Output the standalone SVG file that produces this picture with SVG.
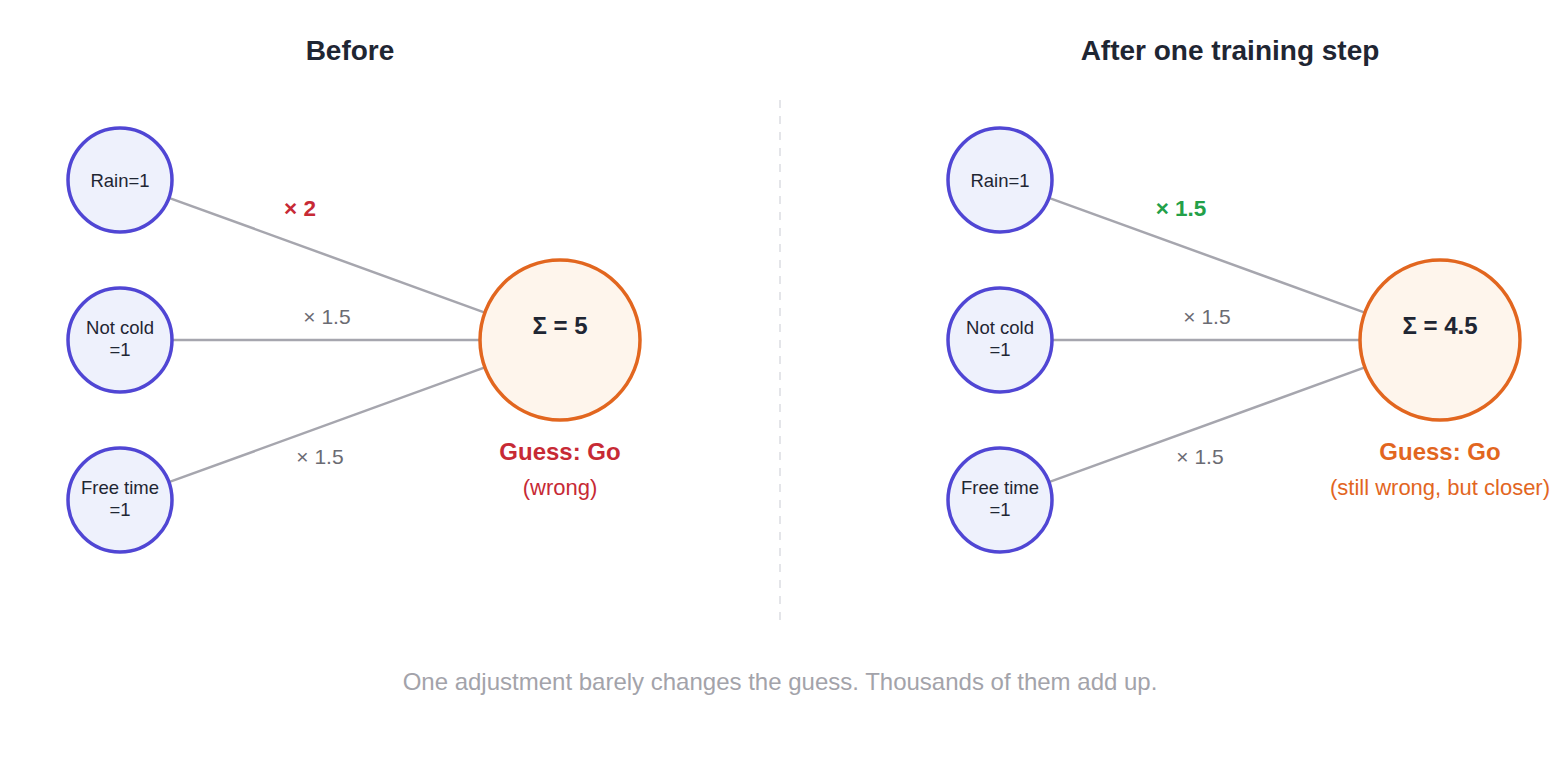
<svg xmlns="http://www.w3.org/2000/svg" width="1560" height="760" viewBox="0 0 1560 760">
<style>
text{font-family:"Liberation Sans",Arial,Helvetica,sans-serif;text-anchor:middle}
.title{font-size:28px;font-weight:bold;fill:#1f2633}
.in circle{fill:#eef1fc;stroke:#5046d4;stroke-width:3.5}
.in text{font-size:18.5px;fill:#1f2633}
.out circle{fill:#fef5ec;stroke:#e2661f;stroke-width:3.5}
.sum{font-size:24px;font-weight:bold;fill:#1f2633}
.edge{stroke:#a6a6ae;stroke-width:2.5;fill:none}
.w{font-size:21px;fill:#6b6b73}
.wb{font-size:22.5px;font-weight:bold}
.red{fill:#c72a35}
.green{fill:#23a048}
.orange{fill:#e2661f}
.guess{font-size:24px;font-weight:bold}
.sub{font-size:22px}
.cap{font-size:24px;fill:#a3a3aa}
</style>
<rect width="1560" height="760" fill="#ffffff"/>
<text class="title" x="350" y="60">Before</text>
<text class="title" x="1230" y="60">After one training step</text>
<line x1="780" y1="100" x2="780" y2="620" stroke="#e4e5e9" stroke-width="2" stroke-dasharray="8 8"/>
<g id="connectors">
<line class="edge" x1="168.9" y1="197.8" x2="484.8" y2="312.6"/>
<line class="edge" x1="172" y1="340" x2="480" y2="340"/>
<line class="edge" x1="168.9" y1="482.2" x2="484.8" y2="367.4"/>
<line class="edge" x1="1048.9" y1="197.8" x2="1364.8" y2="312.6"/>
<line class="edge" x1="1052" y1="340" x2="1360" y2="340"/>
<line class="edge" x1="1048.9" y1="482.2" x2="1364.8" y2="367.4"/>
<text class="wb red" x="300" y="216">× 2</text>
<text class="w" x="327" y="324">× 1.5</text>
<text class="w" x="320" y="464">× 1.5</text>
<text class="wb green" x="1181" y="216">× 1.5</text>
<text class="w" x="1207" y="324">× 1.5</text>
<text class="w" x="1200" y="464">× 1.5</text>
</g>
<g id="b-rain" class="in"><circle cx="120" cy="180" r="52"/><text x="120" y="187">Rain=1</text></g>
<g id="b-cold" class="in"><circle cx="120" cy="340" r="52"/><text x="120" y="334">Not cold</text><text x="120" y="356">=1</text></g>
<g id="b-free" class="in"><circle cx="120" cy="500" r="52"/><text x="120" y="494">Free time</text><text x="120" y="516">=1</text></g>
<g id="b-sum" class="out"><circle cx="560" cy="340" r="80"/><text class="sum" x="560" y="334">Σ = 5</text></g>
<g id="b-guess"><text class="guess red" x="560" y="460">Guess: Go</text><text class="sub red" x="560" y="495">(wrong)</text></g>
<g id="a-rain" class="in"><circle cx="1000" cy="180" r="52"/><text x="1000" y="187">Rain=1</text></g>
<g id="a-cold" class="in"><circle cx="1000" cy="340" r="52"/><text x="1000" y="334">Not cold</text><text x="1000" y="356">=1</text></g>
<g id="a-free" class="in"><circle cx="1000" cy="500" r="52"/><text x="1000" y="494">Free time</text><text x="1000" y="516">=1</text></g>
<g id="a-sum" class="out"><circle cx="1440" cy="340" r="80"/><text class="sum" x="1440" y="334">Σ = 4.5</text></g>
<g id="a-guess"><text class="guess orange" x="1440" y="460">Guess: Go</text><text class="sub orange" x="1440" y="495">(still wrong, but closer)</text></g>
<text class="cap" x="780" y="690">One adjustment barely changes the guess. Thousands of them add up.</text>
</svg>
